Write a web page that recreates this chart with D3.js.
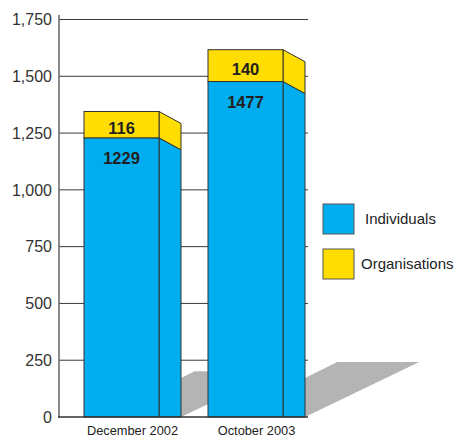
<!DOCTYPE html>
<html>
<head>
<meta charset="utf-8">
<script src="https://cdn.jsdelivr.net/npm/d3@7"></script>
<style>
  html, body { margin: 0; padding: 0; background: #fff; }
  svg { display: block; }
  text { font-family: "Liberation Sans", Arial, sans-serif; }
</style>
</head>
<body>
<div id="chart"></div>
<script>
// ---- data ----
const categories = ["December 2002", "October 2003"];
const individuals = [1229, 1477];
const organisations = [116, 140];
const seriesNames = ["Individuals", "Organisations"];
const yTicks = [0, 250, 500, 750, 1000, 1250, 1500, 1750];

// ---- layout ----
const W = 456, H = 438;
const colors = { Individuals: "#00aeef", Organisations: "#ffdd00" };
const shadowColor = "#b4b4b4";
const edge = "#333333";
const sideW = 22, sideDrop = 12;

const svg = d3.select("#chart").append("svg").attr("width", W).attr("height", H);

const y = d3.scaleLinear().domain([0, 1750]).range([417, 19.5]);
const x = d3.scaleBand().domain(categories).range([59, 308]).paddingInner(0.395).paddingOuter(0.2016);
const bw = x.bandwidth();
const fmt = d3.format(",");

// gridlines
svg.append("g").selectAll("line").data(yTicks.filter(d => d > 0)).join("line")
  .attr("x1", 59).attr("x2", 308)
  .attr("y1", d => y(d)).attr("y2", d => y(d))
  .attr("stroke", "#3a3a3a").attr("stroke-width", 1);

// y axis via d3.axisLeft (labels only)
const yAxis = svg.append("g").attr("transform", "translate(52,0)")
  .call(d3.axisLeft(y).tickValues(yTicks).tickFormat(fmt).tickSize(0).tickPadding(0));
yAxis.select(".domain").remove();
yAxis.selectAll("text").attr("font-size", 16).attr("fill", "#333")
  .attr("font-family", "Liberation Sans, Arial, sans-serif").attr("dy", "0.33em");

// shadows
const data = categories.map((c, i) => ({
  cat: c, ind: individuals[i], org: organisations[i], total: individuals[i] + organisations[i]
}));
const y0 = y(0);
svg.append("g").selectAll("polygon").data(data).join("polygon")
  .attr("fill", shadowColor)
  .attr("points", d => {
    const xr = x(d.cat) + bw + sideW;
    const top = y(d.total * 0.15);
    const a = y0 - 39;
    return [[xr, y0], [xr, a], [xr + 2 * (a - top), top], [xr + 2 * (y0 - top) + 4, top]].map(p => p.join(",")).join(" ");
  });

// vertical axis line
svg.append("line").attr("x1", 59).attr("x2", 59).attr("y1", 15).attr("y2", y0 + 1)
  .attr("stroke", "#666").attr("stroke-width", 1.5);

// bars
const bars = svg.append("g").selectAll("g").data(data).join("g");
bars.each(function(d) {
  const g = d3.select(this);
  const xl = x(d.cat), xr = xl + bw;
  const yInd = y(d.ind), yTot = y(d.total);
  g.append("polygon").attr("fill", colors.Individuals).attr("stroke", edge).attr("stroke-width", 1)
    .attr("points", [[xr, yInd], [xr + sideW, yInd + sideDrop], [xr + sideW, y0], [xr, y0]].join(" "));
  g.append("polygon").attr("fill", colors.Organisations).attr("stroke", edge).attr("stroke-width", 1)
    .attr("points", [[xr, yTot], [xr + sideW, yTot + sideDrop], [xr + sideW, yInd + sideDrop], [xr, yInd]].join(" "));
  g.append("rect").attr("x", xl).attr("y", yInd).attr("width", bw).attr("height", y0 - yInd)
    .attr("fill", colors.Individuals).attr("stroke", edge).attr("stroke-width", 1);
  g.append("rect").attr("x", xl).attr("y", yTot).attr("width", bw).attr("height", yInd - yTot)
    .attr("fill", colors.Organisations).attr("stroke", edge).attr("stroke-width", 1);
  g.append("text").attr("x", xl + bw / 2).attr("y", yInd + 26)
    .attr("text-anchor", "middle").attr("font-size", 16.5).attr("font-weight", "bold").attr("fill", "#231f20")
    .text(d.ind);
  g.append("text").attr("x", xl + bw / 2).attr("y", (yTot + yInd) / 2 + 9.5)
    .attr("text-anchor", "middle").attr("font-size", 16.5).attr("font-weight", "bold").attr("fill", "#231f20")
    .text(d.org);
});

// baseline
svg.append("line").attr("x1", 58).attr("x2", 308).attr("y1", y0).attr("y2", y0)
  .attr("stroke", "#333").attr("stroke-width", 1.6);

// x labels
svg.append("g").selectAll("text").data(categories).join("text")
  .attr("x", d => x(d) + (bw + sideW) / 2).attr("y", 434.5)
  .attr("text-anchor", "middle").attr("font-size", 12.8).attr("fill", "#222")
  .text(d => d);

// legend
const legend = svg.append("g").selectAll("g").data(seriesNames).join("g")
  .attr("transform", (d, i) => `translate(323,${204 + i * 45})`);
legend.append("rect").attr("width", 31).attr("height", 30)
  .attr("fill", d => colors[d]).attr("stroke", "#555").attr("stroke-width", 1);
legend.append("text").attr("x", (d, i) => i === 0 ? 42 : 38).attr("y", 19.5)
  .attr("font-size", 15).attr("fill", "#222").text(d => d);
</script>
</body>
</html>
